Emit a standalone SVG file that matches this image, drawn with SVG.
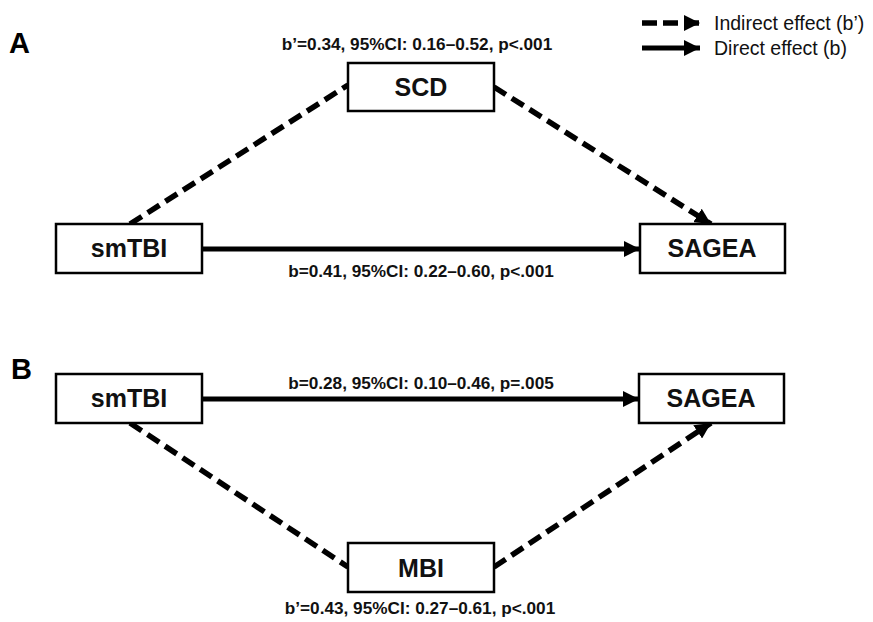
<svg xmlns="http://www.w3.org/2000/svg" width="873" height="622" viewBox="0 0 873 622">
<style>
.box{fill:#fff;stroke:#000;stroke-width:2.5}
.nt{font-family:"Liberation Sans",Arial,sans-serif;font-weight:bold;font-size:25px;text-anchor:middle;fill:#111}
.el{font-family:"Liberation Sans",Arial,sans-serif;font-weight:bold;font-size:17.2px;text-anchor:middle;fill:#111}
.lg{font-family:"Liberation Sans",Arial,sans-serif;font-size:19.5px;fill:#111}
.pl{font-family:"Liberation Sans",Arial,sans-serif;font-weight:bold;font-size:29px;fill:#000}
.solid{stroke:#000;stroke-width:5;fill:none}
.dash{stroke:#000;stroke-width:5.5;fill:none;stroke-dasharray:14 7}
</style>
<defs>
<marker id="ah" markerUnits="userSpaceOnUse" markerWidth="18" markerHeight="16" refX="16" refY="8" orient="auto" viewBox="0 0 18 16">
<path d="M0,0 L16,8 L0,16 Z" fill="#000"/>
</marker>
</defs>
<text class="pl" x="9" y="53">A</text>
<text class="pl" x="11" y="379">B</text>
<g id="legend">
<line class="dash" x1="642" y1="23" x2="700" y2="23" style="stroke-dasharray:15 6" marker-end="url(#ah)"/>
<line class="solid" x1="642" y1="48" x2="700" y2="48" marker-end="url(#ah)"/>
<text class="lg" x="714" y="30">Indirect effect (b’)</text>
<text class="lg" x="714" y="55">Direct effect (b)</text>
</g>
<g id="connectors">
<line class="dash" x1="130" y1="224" x2="348" y2="85"/>
<line class="dash" x1="494" y1="87" x2="711" y2="224" marker-end="url(#ah)"/>
<line class="solid" x1="202" y1="249" x2="640" y2="249" marker-end="url(#ah)"/>
<line class="solid" x1="202" y1="399" x2="639" y2="399" marker-end="url(#ah)"/>
<line class="dash" x1="130" y1="423" x2="348" y2="567"/>
<line class="dash" x1="494" y1="567" x2="711" y2="423" marker-end="url(#ah)"/>
</g>
<g id="labels">
<text class="el" x="417" y="50">b’=0.34, 95%CI: 0.16–0.52, p&lt;.001</text>
<text class="el" x="421" y="277">b=0.41, 95%CI: 0.22–0.60, p&lt;.001</text>
<text class="el" x="421" y="389">b=0.28, 95%CI: 0.10–0.46, p=.005</text>
<text class="el" x="420" y="614">b’=0.43, 95%CI: 0.27–0.61, p&lt;.001</text>
</g>
<g id="node-scd">
<rect class="box" x="348" y="63" width="146" height="48"/>
<text class="nt" x="421" y="96">SCD</text>
</g>
<g id="node-smtbi-a">
<rect class="box" x="56" y="224" width="146" height="49"/>
<text class="nt" x="129" y="257">smTBI</text>
</g>
<g id="node-sagea-a">
<rect class="box" x="640" y="224" width="145" height="49"/>
<text class="nt" x="712" y="257">SAGEA</text>
</g>
<g id="node-smtbi-b">
<rect class="box" x="56" y="374" width="146" height="49"/>
<text class="nt" x="129" y="407">smTBI</text>
</g>
<g id="node-sagea-b">
<rect class="box" x="639" y="374" width="145" height="49"/>
<text class="nt" x="711" y="407">SAGEA</text>
</g>
<g id="node-mbi">
<rect class="box" x="348" y="543" width="146" height="49"/>
<text class="nt" x="421" y="577">MBI</text>
</g>
</svg>
